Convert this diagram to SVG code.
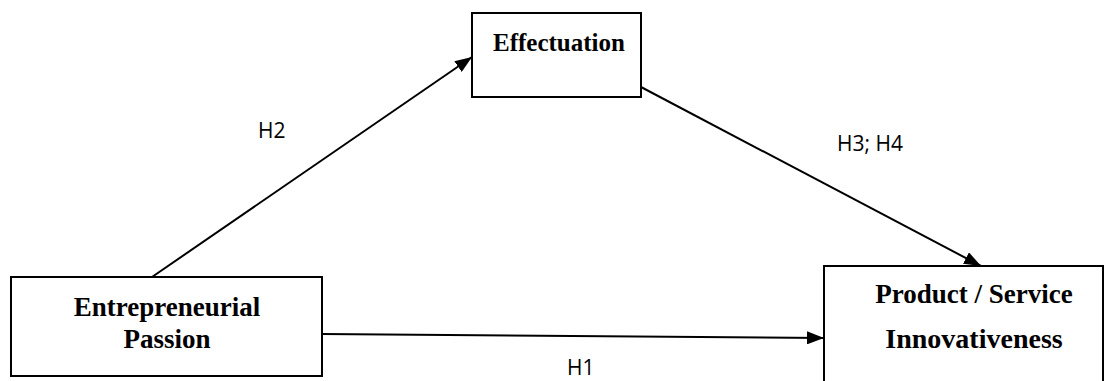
<svg xmlns="http://www.w3.org/2000/svg" width="1115" height="381" viewBox="0 0 1115 381">
<style>
.box{fill:#fff;stroke:#000;stroke-width:2}
.t{font-family:"Liberation Serif",serif;font-weight:bold;font-size:27px;text-anchor:middle;fill:#000}
.l{font-family:"Open Sans","Liberation Sans",sans-serif;font-size:21px;fill:#000}
.c{stroke:#000;stroke-width:2;fill:none}
</style>
<defs>
<marker id="ah" viewBox="0 0 17 13" refX="17" refY="6.5" markerWidth="17" markerHeight="13" markerUnits="userSpaceOnUse" orient="auto">
<path d="M0,0 L17,6.5 L0,13 Z" fill="#000"/>
</marker>
</defs>
<rect width="1115" height="381" fill="#fff"/>
<g id="connectors">
<line class="c" x1="152" y1="277" x2="472" y2="57" marker-end="url(#ah)"/>
<line class="c" x1="641" y1="87" x2="981" y2="266" marker-end="url(#ah)"/>
<line class="c" x1="322" y1="334" x2="824" y2="338" marker-end="url(#ah)"/>
<text class="l" x="258" y="138">H2</text>
<text class="l" x="837" y="151">H3; H4</text>
<text class="l" x="567" y="375">H1</text>
</g>
<g id="effectuation">
<rect class="box" x="472" y="13" width="169" height="84"/>
<text class="t" x="559" y="51" style="font-size:25px">Effectuation</text>
</g>
<g id="passion">
<rect class="box" x="11" y="277" width="311" height="99"/>
<text class="t" x="167" y="316">Entrepreneurial</text>
<text class="t" x="167" y="348">Passion</text>
</g>
<g id="innovativeness">
<rect class="box" x="824" y="266" width="279" height="130"/>
<text class="t" x="974" y="303">Product / Service</text>
<text class="t" x="974" y="348" style="font-size:28px">Innovativeness</text>
</g>
</svg>
